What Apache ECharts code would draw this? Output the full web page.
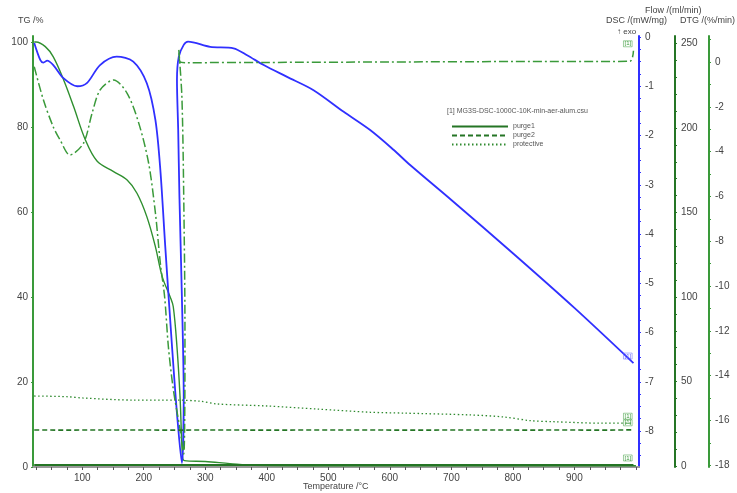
<!DOCTYPE html>
<html>
<head>
<meta charset="utf-8">
<script src="https://cdn.jsdelivr.net/npm/echarts@6/dist/echarts.min.js"></script>
<style>
  html, body { margin: 0; padding: 0; background: #fff; }
  #chart { width: 737px; height: 493px; }
</style>
</head>
<body>
<div id="chart"></div>
<script>
// TG (%) vs temperature
const tgTemp = [22, 25, 40, 53, 70, 86, 105, 124, 151, 173, 189, 205, 219, 230, 243, 248, 254, 259, 263, 266, 300, 340, 380, 500, 1000];
const tgValue = [100, 100, 98.9, 96.5, 91, 84.8, 77, 72, 69.5, 67.5, 64.4, 58.9, 51.8, 44.8, 40, 37.7, 28.3, 16.5, 2.4, 1.5, 1.3, 0.8, 0.4, 0.3, 0.3];

// DSC (mW/mg) - the curve doubles back in temperature at the exotherm
const dscTemp = [22, 32, 37, 43, 53, 69, 92, 108, 129, 156, 183, 205, 219, 227, 235, 246, 254, 262, 265, 262, 258, 256, 254, 257, 265, 272, 308, 346, 368, 395, 433, 476, 525, 568, 606, 633, 700, 800, 900, 996];
const dscValue = [-0.12, -0.47, -0.52, -0.48, -0.57, -0.83, -1.0, -0.93, -0.57, -0.40, -0.50, -0.94, -1.69, -2.70, -4.26, -6.29, -7.64, -8.65, -7.30, -5.27, -3.24, -1.89, -0.87, -0.40, -0.16, -0.095, -0.20, -0.23, -0.37, -0.57, -0.81, -1.08, -1.52, -1.89, -2.29, -2.60, -3.31, -4.39, -5.50, -6.62];

// DTG (%/min)
const dtgTemp = [22, 37, 53, 64, 80, 102, 116, 129, 151, 173, 192, 208, 219, 227, 234, 240, 248, 259, 265, 267, 265, 262, 257, 259, 270, 400, 600, 800, 990, 996];
const dtgValue = [-0.21, -1.7, -2.9, -3.48, -4.15, -3.63, -2.29, -1.25, -0.80, -1.40, -2.74, -4.52, -6.75, -8.99, -10.5, -12.7, -14.6, -16.4, -17.5, -12.0, -6.0, -1.55, 0.54, 0.01, -0.03, -0.02, 0.0, 0.02, 0.03, 0.5];

// Flow (ml/min)
const flowTemp = [22, 75, 102, 183, 254, 292, 319, 400, 482, 568, 622, 731, 785, 829, 866, 947, 996];
const purge1 = [0.6, 0.6, 0.6, 0.6, 0.6, 0.6, 0.6, 0.6, 0.6, 0.6, 0.6, 0.6, 0.6, 0.6, 0.6, 0.6, 0.6];
const purge2 = [21.3, 21.2, 21.3, 21.3, 21.2, 21.3, 21.3, 21.2, 21.3, 21.3, 21.2, 21.3, 21.3, 21.2, 21.3, 21.2, 21.4];
const protective = [41.4, 41, 40.2, 39, 39, 38.3, 36.7, 35.5, 33.7, 31.8, 31.3, 30.2, 29, 26.8, 26.2, 25.3, 25.3];

// tick labels
const tempLabels = [100, 200, 300, 400, 500, 600, 700, 800, 900];
const tempTicks = [25, 50, 75, 100, 125, 150, 175, 200, 225, 250, 275, 300, 325, 350, 375, 400, 425, 450, 475, 500, 525, 550, 575, 600, 625, 650, 675, 700, 725, 750, 775, 800, 825, 850, 875, 900, 925, 950, 975, 1000];
const tgLabels = [0, 20, 40, 60, 80, 100];
const dscLabels = [0, -1, -2, -3, -4, -5, -6, -7, -8];
const dscTicks = [0, -0.25, -0.5, -0.75, -1, -1.25, -1.5, -1.75, -2, -2.25, -2.5, -2.75, -3, -3.25, -3.5, -3.75, -4, -4.25, -4.5, -4.75, -5, -5.25, -5.5, -5.75, -6, -6.25, -6.5, -6.75, -7, -7.25, -7.5, -7.75, -8, -8.25, -8.5];
const flowLabels = [0, 50, 100, 150, 200, 250];
const flowTicks = [0, 10, 20, 30, 40, 50, 60, 70, 80, 90, 100, 110, 120, 130, 140, 150, 160, 170, 180, 190, 200, 210, 220, 230, 240, 250];
const dtgLabels = [0, -2, -4, -6, -8, -10, -12, -14, -16, -18];
const dtgTicks = [1, 0, -1, -2, -3, -4, -5, -6, -7, -8, -9, -10, -11, -12, -13, -14, -15, -16, -17, -18];

const zip = (xs, ys) => xs.map((x, i) => [x, ys[i]]);

const FONT = 'Liberation Sans';
const GREEN = '#3a9a3a';
const DARK_GREEN = '#257525';
const BLUE = '#3030ff';

const chart = echarts.init(document.getElementById('chart'));

function yAxisBase(color, offset, position) {
  return {
    type: 'value',
    position: position,
    offset: offset,
    splitLine: { show: false },
    axisLine: { show: true, onZero: false, lineStyle: { color: color, width: 2 } },
    axisTick: { show: true, length: 2, lineStyle: { color: color } },
    axisLabel: { color: '#444', fontSize: 10, fontFamily: FONT, margin: 6 }
  };
}

function endTag(color) {
  return {
    show: true,
    formatter: '[1]',
    fontSize: 6,
    fontFamily: FONT,
    color: color,
    borderColor: color,
    borderWidth: 0.5,
    padding: [0, 1],
    distance: 0,
    offset: [-10, -7]
  };
}

const option = {
  animation: false,
  backgroundColor: '#fff',
  grid: { left: 33, right: 98, top: 36, bottom: 26, containLabel: false },
  legend: {
    data: ['purge1', 'purge2', 'protective'],
    orient: 'vertical',
    left: 446,
    top: 118,
    itemWidth: 56,
    itemHeight: 6,
    itemGap: 2,
    itemStyle: { opacity: 0 },
    textStyle: { fontSize: 7, fontFamily: FONT, color: '#555', width: 28, align: 'right' }
  },
  xAxis: {
    type: 'value',
    min: 20,
    max: 1005,
    splitLine: { show: false },
    axisLine: { show: true, onZero: false, lineStyle: { color: '#999', width: 2 } },
    axisTick: { show: true, length: 3, customValues: tempTicks, lineStyle: { color: '#555' } },
    axisLabel: { customValues: tempLabels, color: '#444', fontSize: 10, fontFamily: FONT, margin: 6 }
  },
  yAxis: [
    Object.assign(yAxisBase(GREEN, 0, 'left'), {
      min: 0, max: 101.4,
      axisTick: { show: true, length: 2, customValues: tgLabels, lineStyle: { color: GREEN } },
      axisLabel: { customValues: tgLabels, color: '#444', fontSize: 10, fontFamily: FONT, margin: 5 }
    }),
    Object.assign(yAxisBase(BLUE, 0, 'right'), {
      min: -8.73, max: 0.02,
      axisTick: { show: true, length: 2, customValues: dscTicks, lineStyle: { color: BLUE } },
      axisLabel: { customValues: dscLabels, color: '#444', fontSize: 10, fontFamily: FONT, margin: 6 }
    }),
    Object.assign(yAxisBase(DARK_GREEN, 36, 'right'), {
      min: -0.6, max: 254.4,
      axisTick: { show: true, length: 2, customValues: flowTicks, lineStyle: { color: DARK_GREEN } },
      axisLabel: { customValues: flowLabels, color: '#444', fontSize: 10, fontFamily: FONT, margin: 6 }
    }),
    Object.assign(yAxisBase(GREEN, 70, 'right'), {
      min: -18.08, max: 1.16,
      axisTick: { show: true, length: 2, customValues: dtgTicks, lineStyle: { color: GREEN } },
      axisLabel: { customValues: dtgLabels, color: '#444', fontSize: 10, fontFamily: FONT, margin: 6 }
    })
  ],
  graphic: [
    { type: 'text', left: 18, top: 16, style: { text: 'TG /%', fontSize: 9, fontFamily: FONT, fill: '#444' } },
    { type: 'text', left: 645, top: 6, style: { text: 'Flow /(ml/min)', fontSize: 9, fontFamily: FONT, fill: '#444' } },
    { type: 'text', left: 606, top: 16, style: { text: 'DSC /(mW/mg)', fontSize: 9, fontFamily: FONT, fill: '#444' } },
    { type: 'text', left: 680, top: 16, style: { text: 'DTG /(%/min)', fontSize: 9, fontFamily: FONT, fill: '#444' } },
    { type: 'text', left: 617, top: 28, style: { text: '↑ exo', fontSize: 8, fontFamily: FONT, fill: '#444' } },
    { type: 'text', left: 303, top: 482, style: { text: 'Temperature /°C', fontSize: 9, fontFamily: FONT, fill: '#444' } },
    { type: 'text', left: 447, top: 108, style: { text: '[1] MG3S-DSC-1000C-10K-min-aer-alum.csu', fontSize: 7, fontFamily: FONT, fill: '#555' } }
  ],
  series: [
    {
      name: 'TG', type: 'line', yAxisIndex: 0, showSymbol: false, symbol: 'none', smooth: 0.35,
      lineStyle: { color: '#2f8f2f', width: 1.4 },
      data: zip(tgTemp, tgValue)
    },
    {
      name: 'DSC', type: 'line', yAxisIndex: 1, showSymbol: false, symbol: 'none', smooth: 0.3,
      lineStyle: { color: BLUE, width: 1.8 },
      endLabel: endTag('#6060ff'),
      data: zip(dscTemp, dscValue)
    },
    {
      name: 'DTG', type: 'line', yAxisIndex: 3, showSymbol: false, symbol: 'none', smooth: 0.3,
      lineStyle: { color: GREEN, width: 1.5, type: [9, 3, 2, 3] },
      endLabel: endTag(GREEN),
      data: zip(dtgTemp, dtgValue)
    },
    {
      name: 'purge1', type: 'line', yAxisIndex: 2, showSymbol: false, symbol: 'none',
      color: DARK_GREEN,
      lineStyle: { color: DARK_GREEN, width: 2 },
      endLabel: endTag(GREEN),
      data: zip(flowTemp, purge1)
    },
    {
      name: 'purge2', type: 'line', yAxisIndex: 2, showSymbol: false, symbol: 'none',
      color: DARK_GREEN,
      lineStyle: { color: DARK_GREEN, width: 1.6, type: [5, 3] },
      endLabel: endTag(GREEN),
      data: zip(flowTemp, purge2)
    },
    {
      name: 'protective', type: 'line', yAxisIndex: 2, showSymbol: false, symbol: 'none', smooth: 0.3,
      color: GREEN,
      lineStyle: { color: '#2f8a2f', width: 1.3, type: [1.5, 2.5] },
      endLabel: endTag(GREEN),
      data: zip(flowTemp, protective)
    }
  ]
};

chart.setOption(option);
</script>
</body>
</html>
